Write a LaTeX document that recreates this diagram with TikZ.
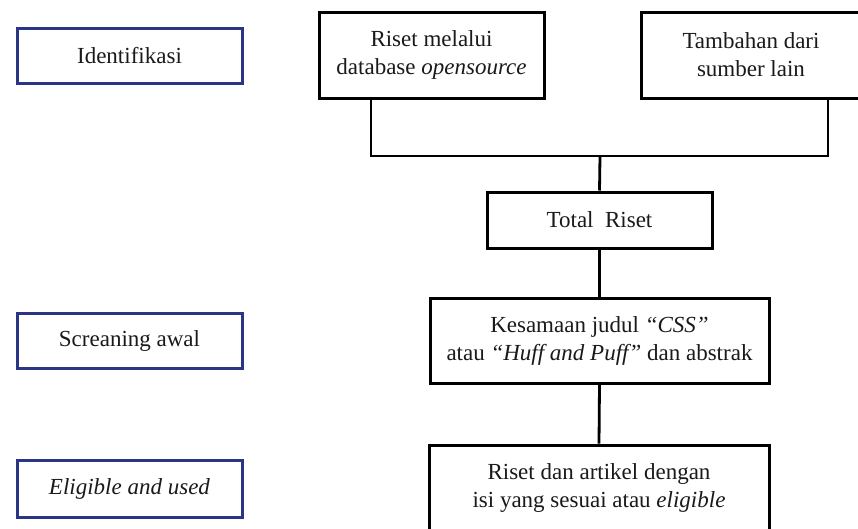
\documentclass[tikz,border=0pt]{standalone}
\usepackage{fontspec}
\setmainfont{Liberation Serif}
\usepackage{xcolor}
\usetikzlibrary{positioning}
\definecolor{stageblue}{HTML}{2A3585}
\definecolor{textgray}{HTML}{1A1A1A}

\begin{document}
\begin{tikzpicture}[x=1pt, y=-1pt, auto,
    every node/.style={font=\fontsize{23}{28}\selectfont, text=textgray, align=center, inner sep=0pt},
    stagebox/.style={draw=stageblue, line width=3pt, rectangle, minimum width=225pt, minimum height=55pt},
    flowbox/.style={draw=black, line width=3pt, rectangle, minimum width=225pt},
    link/.style={draw=black, line width=2.8pt}]
    \useasboundingbox[fill=white] (0,0) rectangle (858,528);
    % stages on the left
    \node (ident) [stagebox] at (129.5,55.5) {Identifikasi};
    \node (screen) [stagebox] at (129.5,340.5) {Screaning awal};
    \node (elig) [stagebox, minimum height=57pt] at (129.5,488.5) {\textit{Eligible and used}};
    % flow on the right
    \node (riset) [flowbox, minimum height=86pt] at (431.5,55) {Riset melalui\\database \textit{opensource}};
    \node (tambah) [flowbox, minimum width=220pt, minimum height=86pt] at (751,55) {Tambahan dari\\sumber lain};
    \node (total) [flowbox, minimum height=56pt] at (599.5,220) {Total~~Riset};
    \node (sama) [flowbox, minimum width=339pt, minimum height=85pt] at (599.5,340.5) {Kesamaan judul \textit{“CSS”}\\atau \textit{“Huff and Puff”} dan abstrak};
    \node (eligible) [flowbox, minimum width=340pt, minimum height=86pt] at (599,488) {Riset dan artikel dengan\\isi yang sesuai atau \textit{eligible}};
    \coordinate (joinL) at (371,156);
    \coordinate (joinR) at (828,156);
    \coordinate (joinM) at (600,156);
    \draw[link] (riset.south -| joinL) -- (joinL) -- (joinR) -- (tambah.south -| joinR);
    \draw[link] (joinM) -- (total.north);
    \draw[link] (total.south) -- (sama.north);
    \draw[link] (sama.south) -- (eligible.north);
\end{tikzpicture}
\end{document}
